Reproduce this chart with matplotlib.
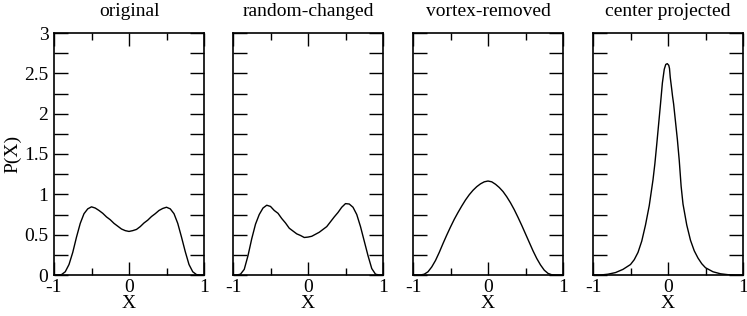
import numpy as np
import matplotlib
matplotlib.use("Agg")
import matplotlib.pyplot as plt
from matplotlib.ticker import MultipleLocator, FuncFormatter

plt.rcParams['font.family'] = ['Liberation Serif', 'DejaVu Serif']
plt.rcParams['font.size'] = 14
plt.rcParams['axes.unicode_minus'] = False

# panel titles
titles = ['original', 'random-changed', 'vortex-removed', 'center projected']

# X grid for the first three panels
x_grid = [-1.0, -0.95, -0.9, -0.85, -0.8, -0.75, -0.7, -0.65, -0.6, -0.55, -0.5,
          -0.45, -0.4, -0.35, -0.3, -0.25, -0.2, -0.15, -0.1, -0.05, 0.0,
          0.05, 0.1, 0.15, 0.2, 0.25, 0.3, 0.35, 0.4, 0.45, 0.5,
          0.55, 0.6, 0.65, 0.7, 0.75, 0.8, 0.85, 0.9, 0.95, 1.0]

p_original = [0.0, 0.0, 0.005, 0.04, 0.13, 0.28, 0.47, 0.64, 0.76, 0.82, 0.845,
              0.83, 0.80, 0.765, 0.72, 0.685, 0.64, 0.605, 0.57, 0.55, 0.54,
              0.55, 0.565, 0.60, 0.645, 0.68, 0.725, 0.76, 0.80, 0.825, 0.84,
              0.82, 0.76, 0.64, 0.47, 0.29, 0.13, 0.04, 0.005, 0.0, 0.0]

p_random = [0.0, 0.0, 0.01, 0.07, 0.24, 0.45, 0.63, 0.75, 0.83, 0.865, 0.85,
            0.80, 0.765, 0.70, 0.645, 0.58, 0.545, 0.51, 0.49, 0.465, 0.47,
            0.48, 0.505, 0.53, 0.565, 0.60, 0.66, 0.72, 0.775, 0.84, 0.885,
            0.88, 0.84, 0.75, 0.60, 0.42, 0.24, 0.08, 0.01, 0.0, 0.0]

p_vortex = [0.0, 0.0, 0.0, 0.01, 0.04, 0.10, 0.18, 0.28, 0.39, 0.495, 0.595,
            0.69, 0.775, 0.855, 0.93, 0.995, 1.05, 1.095, 1.13, 1.155, 1.165,
            1.155, 1.125, 1.085, 1.035, 0.97, 0.895, 0.81, 0.715, 0.615, 0.51,
            0.405, 0.30, 0.205, 0.125, 0.06, 0.02, 0.003, 0.0, 0.0, 0.0]

# center projected needs a finer grid near the peak
x_center = [-1.0, -0.9, -0.8, -0.7, -0.6, -0.5, -0.45, -0.4, -0.35, -0.3, -0.25,
            -0.2, -0.175, -0.15, -0.125, -0.1, -0.075, -0.05, -0.03, -0.01,
            0.01, 0.02, 0.03, 0.05, 0.06, 0.075, 0.1, 0.125, 0.15, 0.175, 0.2,
            0.25, 0.3, 0.35, 0.4, 0.45, 0.5, 0.6, 0.7, 0.8, 0.9, 1.0]
p_center = [0.0, 0.0, 0.01, 0.03, 0.07, 0.13, 0.19, 0.28, 0.42, 0.62, 0.86,
            1.18, 1.38, 1.62, 1.87, 2.12, 2.38, 2.55, 2.61, 2.62,
            2.60, 2.56, 2.45, 2.30, 2.22, 2.12, 1.90, 1.68, 1.42, 1.10, 0.88,
            0.62, 0.43, 0.30, 0.21, 0.14, 0.09, 0.04, 0.015, 0.004, 0.0, 0.0]

series = [(x_grid, p_original), (x_grid, p_random), (x_grid, p_vortex),
          (x_center, p_center)]

fig = plt.figure(figsize=(7.47, 3.16), dpi=100)
lefts = [54, 233, 413, 593]

def ylab(v, pos):
    if abs(v * 2 - round(v * 2)) > 1e-6:
        return ''
    return f'{v:g}'

for i, (left, (xs, ps)) in enumerate(zip(lefts, series)):
    ax = fig.add_axes([left / 747, 41 / 316, 150 / 747, 242 / 316])
    ax.plot(xs, ps, color='black', lw=1.0)
    ax.set_xlim(-1, 1)
    ax.set_ylim(0, 3)
    ax.xaxis.set_major_locator(MultipleLocator(1))
    ax.xaxis.set_minor_locator(MultipleLocator(0.5))
    ax.yaxis.set_major_locator(MultipleLocator(0.25))
    ax.yaxis.set_major_formatter(FuncFormatter(ylab))
    ax.tick_params(which='both', direction='in', top=True, right=True, width=1.0)
    ax.tick_params(axis='x', which='major', length=9.5, pad=3)
    ax.tick_params(axis='x', which='minor', length=5)
    ax.tick_params(axis='y', which='major', length=10, pad=4)
    for s in ax.spines.values():
        s.set_linewidth(1.2)
    ax.set_title(titles[i], fontsize=14, pad=12)
    ax.set_xlabel('X', labelpad=-1)
    if i == 0:
        ax.set_ylabel('P(X)', labelpad=2)
    else:
        ax.set_yticklabels([])

fig.savefig('out.png', dpi=100)
